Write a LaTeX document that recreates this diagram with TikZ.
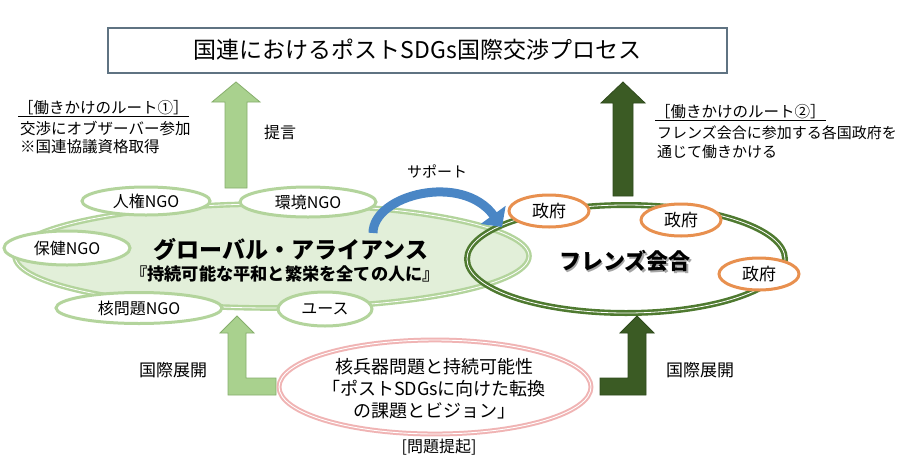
\documentclass[tikz,border=0pt]{standalone}
\usepackage{fontspec}
\setmainfont{Noto Sans CJK JP}
\usetikzlibrary{arrows.meta,shapes.geometric}
\definecolor{boxline}{HTML}{5F7382}
\definecolor{lgfill}{HTML}{A9D18E}
\definecolor{lgline}{HTML}{86AE6C}
\definecolor{dgfill}{HTML}{3B5B24}
\definecolor{dgline}{HTML}{2F4A1C}
\definecolor{allfill}{HTML}{E2EFD9}
\definecolor{allline}{HTML}{B3D49C}
\definecolor{friline}{HTML}{4F7A30}
\definecolor{govline}{HTML}{E8904F}
\definecolor{pinkline}{HTML}{F0B4B4}
\definecolor{bluearr}{HTML}{4A86C5}
\begin{document}
\begin{tikzpicture}[x=1pt,y=-1pt,
  fs/.style={font=\fontsize{#1}{#1}\selectfont},
  ngo/.style={ellipse, draw=allline, line width=3pt, fill=white, inner sep=0pt, fs=16},
  gov/.style={ellipse, draw=govline, line width=3pt, fill=white, inner sep=0pt, minimum width=80pt, minimum height=32pt, fs=17},
  lbl/.style={anchor=west, inner sep=0pt, fs=15.5},
  lgarrow/.style={fill=lgfill, draw=lgline, line width=0.8pt, line join=miter},
  dgarrow/.style={fill=dgfill, draw=dgline, line width=0.8pt, line join=miter}]
\useasboundingbox (0,0) rectangle (905,469);
\fill[white] (0,0) rectangle (905,469);

% top box
\node[draw=boxline, line width=2pt, fill=white, minimum width=619pt, minimum height=45pt, inner sep=0pt, fs=23] (un) at (417.5,50) {国連におけるポストSDGs国際交渉プロセス};

% top arrows
\fill[lgarrow] (236,82) -- (260,102) -- (247,102) -- (247,188) -- (225,188) -- (225,102) -- (212,102) -- cycle;
\fill[dgarrow] (623,82) -- (645,103) -- (633,103) -- (633,196) -- (613,196) -- (613,103) -- (601,103) -- cycle;

% labels
\node[lbl] (r1a) at (18,109) {\underline{［働きかけのルート①］}};
\node[lbl] (r1b) at (20,129) {交渉にオブザーバー参加};
\node[lbl] (r1c) at (20,147) {※国連協議資格取得};
\node[lbl, fs=16] (teigen) at (264,132) {提言};
\node[lbl] (r2a) at (655,113) {\underline{［働きかけのルート②］}};
\node[lbl, fs=15] (r2b) at (657,133) {フレンズ会合に参加する各国政府を};
\node[lbl, fs=15] (r2c) at (657,152) {通じて働きかける};
\node[fs=15, inner sep=0pt] (sup) at (437,171) {サポート};

% big ellipses
\node[ellipse, fill=allfill, draw=allline, line width=2.4pt, double=white, double distance=0.8pt, minimum width=514pt, minimum height=104pt, inner sep=0pt] (ga) at (272,256) {};
\node[ellipse, draw=friline, line width=2.6pt, double=white, double distance=0.8pt, minimum width=318pt, minimum height=108pt, inner sep=0pt] (fr) at (626,259) {};

% blue support arrow
\coordinate (bs) at (373,233);
\coordinate (be) at (502,227);
\draw[bluearr, line width=9pt, -{Triangle[width=30pt,length=15pt]}] (bs) .. controls (373,195) and (462,172) .. (be);

% NGO ellipses
\node[ngo, minimum width=128pt, minimum height=28pt] (jinken) at (146,201) {人権NGO};
\node[ngo, minimum width=136pt, minimum height=30pt] (kankyo) at (308,202) {環境NGO};
\node[ngo, minimum width=126pt, minimum height=34pt] (hoken) at (67,248) {保健NGO};
\node[ngo, minimum width=166pt, minimum height=31pt] (kaku) at (139,308) {核問題NGO};
\node[ngo, minimum width=94pt, minimum height=34pt] (youth) at (325,309) {ユース};

% alliance text
\node[inner sep=0pt, fs=23] (gat) at (291,250) {\bfseries グローバル・アライアンス};
\node[inner sep=0pt, fs=17.2] (gas) at (285,274) {\bfseries 『持続可能な平和と繁栄を全ての人に』};

% friends
\node[inner sep=0pt, fs=22, text=black!35] at (626.5,262.5) {\bfseries フレンズ会合};
\node[inner sep=0pt, fs=22] (frt) at (625,261) {\bfseries フレンズ会合};
\node[gov] (g1) at (549,211) {政府};
\node[gov] (g2) at (681,220) {政府};
\node[gov] (g3) at (759,274) {政府};

% bottom L arrows
\fill[lgarrow] (237,316) -- (254,333) -- (246,333) -- (246,378) -- (276,378) -- (276,395) -- (228,395) -- (228,333) -- (220,333) -- cycle;
\fill[dgarrow] (637,316) -- (654,333) -- (646,333) -- (646,395) -- (600,395) -- (600,378) -- (628,378) -- (628,333) -- (620,333) -- cycle;
\node[inner sep=0pt, fs=17] (kl) at (173,370) {国際展開};
\node[inner sep=0pt, fs=17] (kr) at (700,370) {国際展開};

% pink ellipse
\node[ellipse, fill=white, draw=pinkline, line width=2pt, double=white, double distance=0.9pt, minimum width=312pt, minimum height=94pt, inner sep=0pt] (pk) at (435,387) {};
\node[inner sep=0pt, align=center, fs=18, font=\fontsize{18}{22}\selectfont] (pkt) at (434,389) {核兵器問題と持続可能性\\「ポストSDGsに向けた転換\\の課題とビジョン」};
\node[inner sep=0pt, fs=16] (mondai) at (439,447) {[問題提起]};
\end{tikzpicture}
\end{document}
